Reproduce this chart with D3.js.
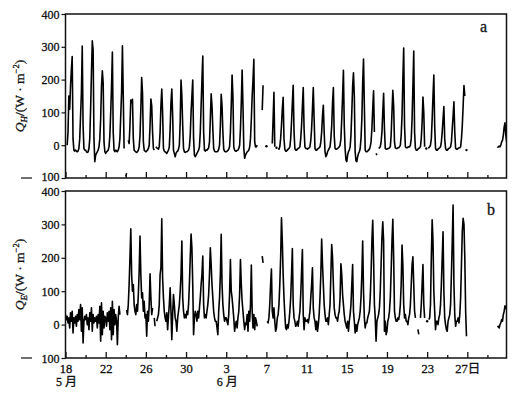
<!DOCTYPE html>
<html>
<head>
<meta charset="utf-8">
<script src="https://cdn.jsdelivr.net/npm/d3@7"></script>
<style>
body { margin: 0; background: #fff; }
text { font-family: "Liberation Serif", "DejaVu Serif", "Noto Sans CJK SC", serif; fill: #111; stroke: #111; stroke-width: 0.3px; }
</style>
</head>
<body>
<div id="chart"></div>
<script>
//****************************************************************************************
// Sensible (a) and latent (b) heat flux, 18 May - 30 June, 2-hourly values
//****************************************************************************************

// Axis values
const yTicks = [-100, 0, 100, 200, 300, 400];
const majorDays = [0, 4, 8, 12, 16, 20, 24, 28, 32, 36, 40];
const majorLabels = ["18", "22", "26", "30", "3", "7", "11", "15", "19", "23", "27日"];
const minorDays = [2, 6, 10, 14, 18, 22, 26, 30, 34, 38, 42];
const monthDays = [0, 16];
const monthLabels = ["5 月", "6 月"];

// Q_H, one row per day, values at 0,2,...,22 h (W/m2)
const qh = [
    [null, null, 0, 40, 150, 110, 180, 230, 270, 20, -15, -18],
    [-15, -18, -20, -18, -10, 20, 90, 160, 302, 60, -10, -15],
    [-15, -20, -22, -20, -10, 20, 110, 220, 318, 290, 20, -50],
    [-30, -25, -20, -15, -5, 20, 80, 180, 227, 190, 10, -20],
    [-25, -20, -18, -15, -5, 30, 100, 180, 284, 40, -15, -20],
    [-15, -18, -20, -15, -5, 20, 90, 160, 303, 150, -10, null],
    [-95, -85, null, 15, 5, 60, 138, 130, 140, 20, -15, -18],
    [-20, -22, -20, -15, -5, 30, 110, 206, 160, 10, -15, -18],
    [-20, -18, -15, -10, 0, 60, 141, 120, 40, -10, -15, null],
    [-5, -8, -10, -12, -5, 40, 120, 171, 100, -10, -18, -20],
    [-22, -25, -20, -15, -5, 50, 130, 171, 90, -15, -25, -35],
    [-25, -20, -18, -12, 0, 70, 199, 150, 60, -10, -20, -22],
    [-20, -20, -18, -15, -5, 30, 100, 150, 199, 20, -30, -35],
    [-30, -25, -20, -15, -5, 40, 120, 200, 272, 40, -15, -18],
    [-15, -15, -12, -8, 10, 80, 157, 120, 50, -10, -18, -20],
    [-20, -20, -18, -12, 0, 60, 155, 120, 40, -12, -18, -20],
    [-20, -18, -16, -12, -5, 40, 120, 214, 150, -5, -15, -18],
    [-18, -16, -15, -10, 0, 50, 130, 229, 120, -10, -40, -30],
    [-25, -20, -18, -15, -5, 20, 80, 150, 200, 262, 10, -5],
    [-5, 0, null, null, null, null, null, 107, 183, null, null, null],
    [-3, null, null, null, null, null, null, 5, 80, 161, -5, null],
    [-8, null, -10, -12, -5, 20, 60, 110, 146, 20, -12, -18],
    [-18, -15, -12, -10, -5, 20, 70, 130, 183, 40, -10, -15],
    [-15, -12, -10, -8, -5, 20, 60, 120, 176, 50, -5, -10],
    [-10, -12, -10, -8, -5, 15, 50, 110, 176, 80, -10, -15],
    [-15, -12, -10, -8, -5, 10, 40, 90, 122, 40, -20, -35],
    [-30, -20, -15, -10, -5, 20, 60, 130, 176, 30, -10, -12],
    [-12, -10, -8, -5, 0, 20, 80, 150, 228, 60, -10, -45],
    [-50, -30, -20, -15, -5, 30, 100, 180, 221, 150, -20, -48],
    [-50, -35, -25, -20, -10, 20, 80, 190, 263, 120, -15, -20],
    [-20, -18, -15, -12, -5, 10, 50, 110, 166, 40, null, -25],
    [-30, null, -10, -8, -5, 10, 40, 100, 158, 50, -10, -12],
    [-12, -10, -10, -8, -5, 30, 100, 167, 120, 10, -8, -10],
    [-10, -8, -8, -5, 0, 30, 90, 200, 296, 60, -5, -8],
    [-8, -6, -5, -5, 0, 20, 80, 180, 287, 40, -10, -15],
    [-15, -12, -10, -8, -5, 20, 70, 147, 100, -5, null, -10],
    [null, -8, -8, -5, 0, 20, 80, 150, 214, 60, -10, -15],
    [-15, -12, -10, -8, -5, 10, 40, 80, 118, 20, -10, -15],
    [-15, -12, -10, -8, -5, 10, 50, 90, 132, 40, -10, -12],
    [-12, -10, -8, -8, -5, 20, 60, 120, 182, 150, null, -15],
    [null, null, null, null, null, null, null, null, null, null, null, null],
    [null, null, null, null, null, null, null, null, null, null, null, null],
    [null, null, null, null, null, null, null, null, null, null, null, null],
    [-8, -5, -3, -5, 0, 10, 15, 30, 55, 68, 30, 10]
];

// Q_E, same layout
const qe = [
    [30, 15, 25, 5, 20, -10, 35, 10, 40, -25, 20, 5],
    [25, -5, 30, 10, 45, 15, 60, -20, 50, -55, 10, 25],
    [15, 30, 0, 20, -15, 35, 10, 50, -20, 30, 5, 20],
    [10, 25, -10, 30, 5, 55, -50, 65, -30, 40, -10, 25],
    [20, -5, 35, 10, 40, -15, 50, -45, 70, -30, 45, 0],
    [30, 10, -60, 20, 55, 30, null, null, null, null, null, null],
    [null, 44, 30, 60, 120, 200, 287, 150, 100, 120, 60, 40],
    [30, 60, 40, 90, 160, 265, 150, 80, 95, 40, 70, 20],
    [30, -35, 40, 10, 60, 152, 80, 30, 50, null, 20, -5],
    [null, 10, 20, 30, 60, 150, 170, 317, 140, 80, 40, 20],
    [10, 35, -15, 25, 60, 110, 40, -45, 30, 90, 60, 20],
    [10, -20, 20, 40, 60, 100, 150, 250, 80, 40, 20, 30],
    [20, 40, 30, 60, 120, 200, 271, 230, 120, -30, 20, 40],
    [30, 10, 40, 20, 50, 80, 120, 150, 205, 60, 20, 30],
    [20, 40, 60, 90, 150, 230, 180, 120, 80, 40, 20, 10],
    [10, -10, -30, 40, 80, 150, 270, 120, 60, 30, 10, 20],
    [20, 10, 0, 30, 90, 195, 100, 80, 50, 20, -20, 0],
    [10, -10, 20, 40, 90, 195, 120, 70, 40, 10, -15, 5],
    [0, 30, -20, 40, 10, 60, 178, 40, -10, 30, -15, 20],
    [10, -5, null, null, null, null, null, 205, 185, null, null, null],
    [null, 10, 5, 20, 60, 120, 166, 40, 20, 50, 10, -20],
    [-10, 20, 30, 60, 120, 200, 320, 250, 150, 80, 30, -10],
    [-15, 0, -10, 10, 40, 80, 150, 228, 60, 20, 10, -5],
    [0, 10, -5, 20, 40, 90, 160, 225, 30, -15, 20, 10],
    [10, 15, 5, 20, 40, 80, 120, 170, 50, 20, 10, -15],
    [10, -20, 0, 30, 80, 150, 256, 180, 120, 60, 30, 10],
    [10, 20, 0, 30, 60, 150, 240, 200, 120, 50, 30, 20],
    [20, 10, 30, 40, 80, 182, 150, 90, 60, 30, 10, 0],
    [-10, 10, -20, 10, 30, 60, 120, 180, 40, 10, -25, 0],
    [-20, 0, 10, 20, 40, 80, 150, 250, 100, 20, -10, 5],
    [5, 20, 30, 40, 80, 150, 250, 312, 200, 60, 20, -50],
    [10, 20, 30, 50, 100, 180, 260, 308, 250, -20, 10, -30],
    [-20, 10, 20, 40, 80, 160, 250, 315, 200, 40, 20, 10],
    [10, 20, 15, 30, 60, 120, 238, 180, 60, 20, 30, 10],
    [10, 0, 20, 30, 60, 120, 180, 203, 120, 40, 20, null],
    [null, -14, -29, null, 20, 60, 120, 180, 60, 20, null, null],
    [10, null, 15, 20, 60, 200, 314, 250, 100, 40, -15, 10],
    [10, 0, 20, 30, 60, 120, 200, 278, 100, 20, 0, -15],
    [-20, 10, 20, 30, 60, 150, 250, 358, 120, 30, -5, 10],
    [10, 20, 5, 30, 80, 180, 280, 318, 300, 200, 40, -35],
    [null, null, null, null, null, null, null, null, null, null, null, null],
    [null, null, null, null, null, null, null, null, null, null, null, null],
    [null, null, null, null, null, null, null, null, null, null, null, null],
    [-8, -5, -10, 0, 5, 15, 10, 30, 40, 56, 50, 45]
];

// Dimensions
const width = 522, height = 395;
const left = 65.5, right = 506.5;
const panels = [
    { id: "a", data: qh, sub: "H", top: 14, bottom: 178, tag: [480, 32] },
    { id: "b", data: qe, sub: "E", top: 191, bottom: 358, tag: [487, 215] }
];

// Shared time scale (days since 18 May 00:00)
const x = d3.scaleLinear().domain([0, 43.9]).range([left, right]);

// Svg container
const svg = d3.select("#chart").append("svg")
    .attr("xmlns", "http://www.w3.org/2000/svg")
    .attr("width", width)
    .attr("height", height);

svg.append("rect")
    .attr("width", width)
    .attr("height", height)
    .style("fill", "#fff");

const defs = svg.append("defs");

// Flatten day rows into {t, v}
function toPoints(rows) {
    var pts = [];
    rows.forEach((row, day) => row.forEach((v, k) => pts.push({ t: day + k / 12, v: v })));
    return pts;
}

panels.forEach(function (p, i) {
    const y = d3.scaleLinear().domain([-100, 400]).range([p.bottom, p.top]);
    const g = svg.append("g").attr("class", "panel-" + p.id);

    // Clip for the series
    defs.append("clipPath")
        .attr("id", "clip-" + p.id)
        .append("rect")
        .attr("x", left)
        .attr("y", p.top)
        .attr("width", right - left)
        .attr("height", p.bottom - p.top);

    const pts = toPoints(p.data);
    const line = d3.line()
        .defined(d => d.v != null)
        .x(d => x(d.t))
        .y(d => y(d.v));

    const plot = g.append("g").attr("clip-path", "url(#clip-" + p.id + ")");

    plot.append("path")
        .datum(pts)
        .attr("d", line)
        .attr("fill", "none")
        .attr("stroke", "#000")
        .attr("stroke-width", 1.6)
        .attr("stroke-linejoin", "round");

    // Isolated readings (no neighbour to join)
    const lone = pts.filter((d, k) => d.v != null
        && (k == 0 || pts[k - 1].v == null)
        && (k == pts.length - 1 || pts[k + 1].v == null));
    plot.selectAll("circle.lone")
        .data(lone)
        .enter().append("circle")
        .attr("class", "lone")
        .attr("cx", d => x(d.t))
        .attr("cy", d => y(d.v))
        .attr("r", 1.2)
        .attr("fill", "#000");

    // Y axis
    const yAxis = g.append("g")
        .attr("transform", `translate(${left},0)`)
        .call(d3.axisLeft(y)
            .tickValues(yTicks)
            .tickSize(4)
            .tickPadding(2)
            .tickFormat(d => Math.abs(d)));
    yAxis.select(".domain").remove();
    yAxis.selectAll("line").attr("stroke", "#111").attr("stroke-width", 1.2);
    yAxis.selectAll("text")
        .style("font-size", "12px")
        .attr("dy", d => d < 0 && i == 0 ? "0.2em" : "0.34em");

    // Minus of the -100 label, set apart as in the print
    g.append("line")
        .attr("x1", 21)
        .attr("x2", 32)
        .attr("y1", y(yTicks[0]))
        .attr("y2", y(yTicks[0]))
        .attr("stroke", "#111")
        .attr("stroke-width", 1.2);

    // X axis, inward ticks
    const xAxis = g.append("g")
        .attr("transform", `translate(0,${p.bottom})`)
        .call(d3.axisBottom(x)
            .tickValues(majorDays)
            .tickSizeInner(-6)
            .tickSizeOuter(0)
            .tickPadding(6)
            .tickFormat((d, k) => i == 1 ? majorLabels[k] : ""));
    xAxis.select(".domain").remove();
    xAxis.selectAll("line").attr("stroke", "#111").attr("stroke-width", 1.3);
    xAxis.selectAll("text")
        .style("font-size", "12.5px");

    const xMinor = g.append("g")
        .attr("transform", `translate(0,${p.bottom})`)
        .call(d3.axisBottom(x)
            .tickValues(minorDays)
            .tickSizeInner(-3)
            .tickSizeOuter(0)
            .tickFormat(""));
    xMinor.select(".domain").remove();
    xMinor.selectAll("line").attr("stroke", "#111").attr("stroke-width", 1.3);

    // Frame
    g.append("rect")
        .attr("x", left)
        .attr("y", p.top)
        .attr("width", right - left)
        .attr("height", p.bottom - p.top)
        .attr("fill", "none")
        .attr("stroke", "#111")
        .attr("stroke-width", 1.5);

    // Y title: Q_X/(W · m^-2)
    const title = g.append("text")
        .attr("transform", `translate(24,${(p.top + p.bottom) / 2}) rotate(-90)`)
        .attr("text-anchor", "middle")
        .style("font-size", "13.5px");
    title.append("tspan").style("font-style", "italic").text("Q");
    title.append("tspan").style("font-style", "italic").style("font-size", "9px")
        .attr("dy", "3").text(p.sub);
    title.append("tspan").attr("dy", "-3").text("/(W · m");
    title.append("tspan").style("font-size", "8.5px").attr("dy", "-5").text("\u22122");
    title.append("tspan").attr("dy", "5").text(")");

    // Panel tag
    g.append("text")
        .attr("x", p.tag[0])
        .attr("y", p.tag[1])
        .style("font-size", "16px")
        .text(p.id);

    // Month names under the lower axis
    if (i == 1) {
        g.selectAll("text.month")
            .data(monthDays)
            .enter().append("text")
            .attr("class", "month")
            .attr("x", d => x(d) + 1)
            .attr("y", p.bottom + 28)
            .attr("text-anchor", "middle")
            .style("font-size", "12px")
            .text((d, k) => monthLabels[k]);
    }
});
</script>
</body>
</html>
